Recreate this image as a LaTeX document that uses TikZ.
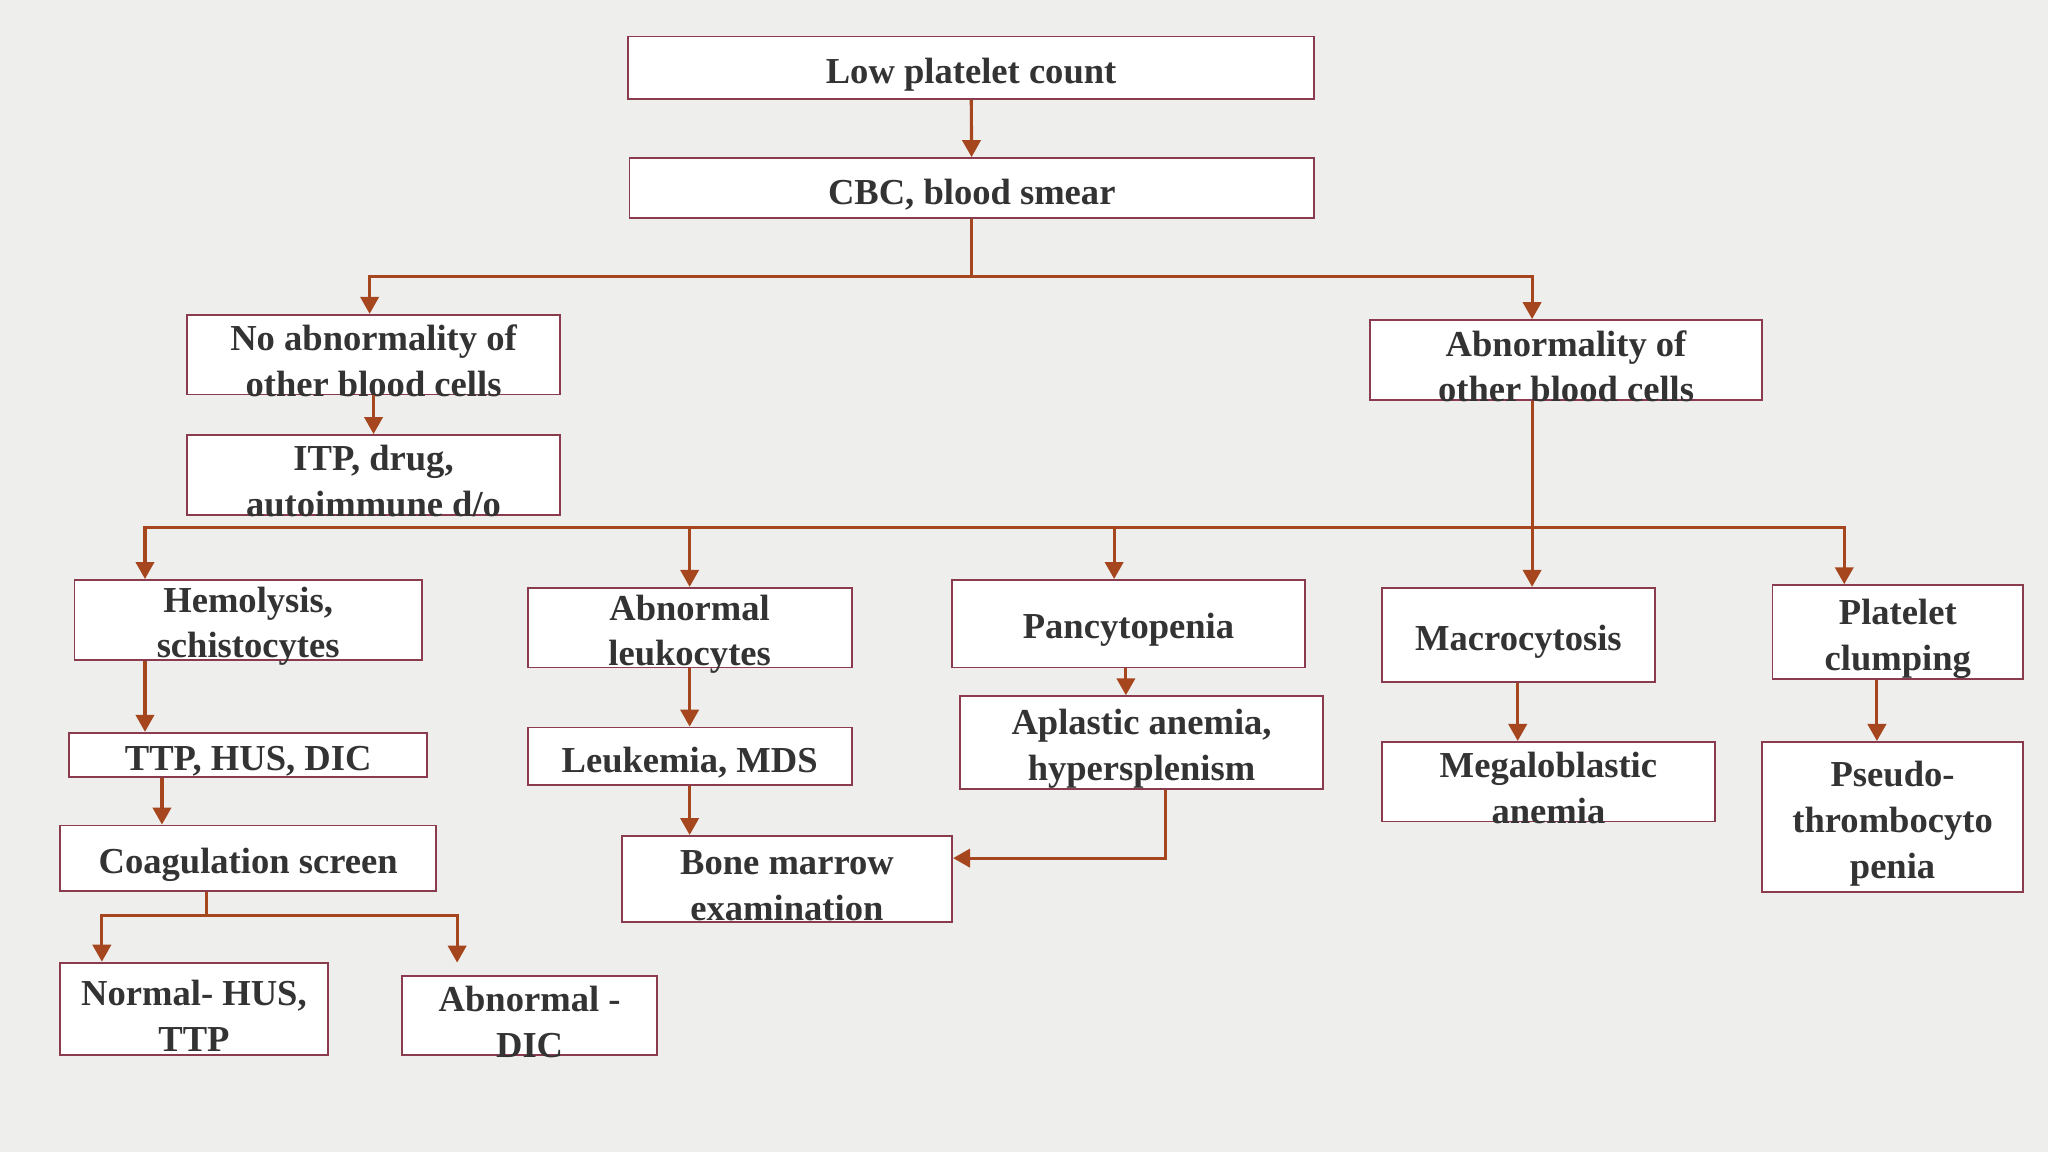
\documentclass[tikz,border=0pt]{standalone}
\usepackage{fontspec}
\setmainfont{Liberation Serif}
\usetikzlibrary{arrows.meta}
\definecolor{bg}{HTML}{EEEEEC}
\definecolor{bord}{HTML}{8A3B4E}
\definecolor{arr}{HTML}{A6461F}
\definecolor{txt}{HTML}{333333}
\tikzset{
 box/.style={draw=bord,line width=0.7pt,fill=white,inner sep=0pt},
 lbl/.style={align=center,inner sep=0pt,font=\bfseries\fontsize{14}{17.5}\selectfont,text=txt,yshift=-2.5pt},
 ln/.style={draw=arr,line width=1.2pt},
 ar/.style={ln,-{Triangle[length=6.5pt,width=7pt]}}
}
\newcommand{\bx}[6]{\node[box,minimum width={(#4-#2)*0.5pt},minimum height={(#5-#3)*0.5pt},label={[lbl]center:#6}] (#1) at ({(#2+#4)/2},{(#3+#5)/2}) {};}
\begin{document}
\begin{tikzpicture}[x=0.5pt,y=-0.5pt]
\fill[bg] (0,0) rectangle (1568,882);
\useasboundingbox (0,0) rectangle (1568,882);
\bx{a}{481}{28}{1006}{76}{Low platelet count}
\bx{b}{482}{121}{1006}{167}{CBC, blood smear}
\bx{c}{143}{241}{429}{302}{No abnormality of\\other blood cells}
\bx{d}{1049}{245}{1349}{306}{Abnormality of\\other blood cells}
\bx{e}{143}{333}{429}{394}{ITP, drug,\\autoimmune d/o}
\bx{f}{57}{444}{323}{505}{Hemolysis,\\schistocytes}
\bx{g}{404}{450}{652}{511}{Abnormal\\leukocytes}
\bx{h}{729}{444}{999}{511}{Pancytopenia}
\bx{i}{1058}{450}{1267}{522}{Macrocytosis}
\bx{j}{1357}{448}{1549}{520}{Platelet\\clumping}
\bx{k}{53}{561}{327}{595}{TTP, HUS, DIC}
\bx{l}{404}{557}{652}{601}{Leukemia, MDS}
\bx{m}{735}{533}{1013}{604}{Aplastic anemia,\\hypersplenism}
\bx{n}{1058}{568}{1313}{629}{Megaloblastic\\anemia}
\bx{o}{1349}{568}{1549}{683}{Pseudo-\\thrombocyto\\penia}
\bx{p}{46}{632}{334}{682}{Coagulation screen}
\bx{q}{476}{640}{729}{706}{Bone marrow\\examination}
\bx{r}{46}{737}{251}{808}{Normal- HUS,\\TTP}
\bx{s}{308}{747}{503}{808}{Abnormal -\\DIC}
\coordinate (b1) at (744,212);
\coordinate (d1) at (1173,404);
\coordinate (p1) at (158,701);
\draw[ar] (a) -- (b);
\draw[ln] (b.south) -- (b1);
\draw[ar] (b1) -| (c.north -| 283,0);
\draw[ar] (b1) -| (d.north -| 1173,0);
\draw[ar] (c.south -| 286,0) -- (e.north -| 286,0);
\draw[ln] (d.south -| 1173,0) -- (d1);
\draw[ar] (d1) -| (f.north -| 111,0);
\draw[ar] (d1) -| (g.north -| 528,0);
\draw[ar] (d1) -| (h.north -| 853,0);
\draw[ar] (d1) -- (i.north -| 1173,0);
\draw[ar] (d1) -| (j.north -| 1412,0);
\draw[ar] (f.south -| 111,0) -- (k.north -| 111,0);
\draw[ar] (k.south -| 124,0) -- (p.north -| 124,0);
\draw[ln] (p.south -| 158,0) -- (p1);
\draw[ar] (p1) -| (r.north -| 78,0);
\draw[ar] (p1) -| (350,737);
\draw[ar] (g.south -| 528,0) -- (l.north -| 528,0);
\draw[ar] (l.south -| 528,0) -- (q.north -| 528,0);
\draw[ar] (h.south -| 862,0) -- (m.north -| 862,0);
\draw[ar] (m.south -| 892,0) |- (q.east |- 0,657);
\draw[ar] (i.south -| 1162,0) -- (n.north -| 1162,0);
\draw[ar] (j.south -| 1437,0) -- (o.north -| 1437,0);
\end{tikzpicture}
\end{document}
